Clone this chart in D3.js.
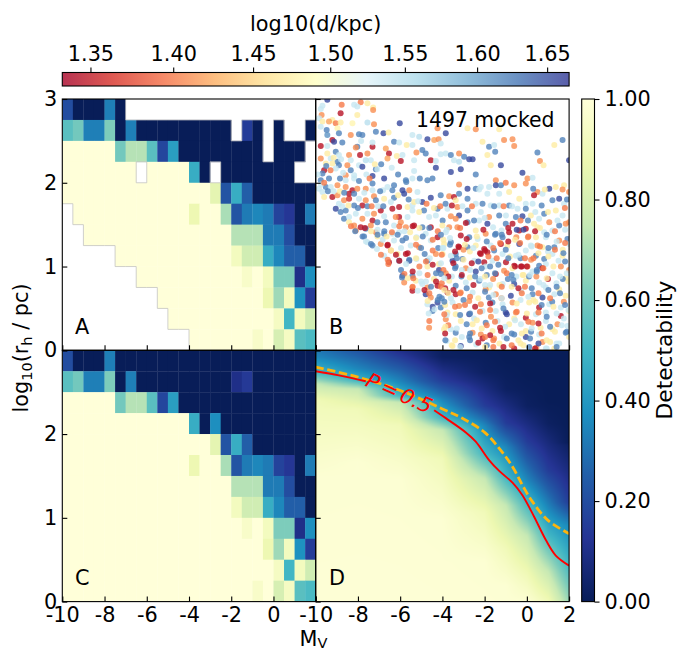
<!DOCTYPE html>
<html><head><meta charset="utf-8">
<style>html,body{margin:0;padding:0;background:#fff}svg{display:block}text{font-family:"DejaVu Sans";fill:#000}</style>
<script src="https://cdn.jsdelivr.net/npm/d3@7"></script>
</head><body><script>
const n = null;
const magBins = [-10,-9.5,-9,-8.5,-8,-7.5,-7,-6.5,-6,-5.5,-5,-4.5,-4,-3.5,-3,-2.5,-2,-1.5,-1,-0.5,0,0.5,1,1.5];
const sizeBins = [2.75,2.5,2.25,2,1.75,1.5,1.25,1,0.75,0.5,0.25,0];
const panelA = [
[.2,0,0,0,.33,0,n,n,n,n,n,n,n,n,n,n,n,n,n,n,n,n,n,n],
[.55,.6,.33,.33,.62,0,.33,0,0,0,0,0,0,0,0,0,n,.15,0,n,0,n,n,0],
[1,1,1,1,1,.6,.72,.72,.55,.18,.42,0,0,0,0,0,0,0,0,n,0,0,0,n],
[1,1,1,1,1,1,1,n,1,1,1,1,.47,0,n,0,0,0,0,0,0,0,n,n],
[1,1,1,1,1,1,1,1,1,1,1,1,1,1,.85,.22,.47,.25,0,0,0,0,0,0],
[n,1,1,1,1,1,1,1,1,1,1,1,.88,1,1,.7,.22,.32,.35,.32,.17,.13,0,.32],
[n,n,1,1,1,1,1,1,1,1,1,1,1,1,1,1,.72,.72,.72,.32,.32,.2,0,0],
[n,n,n,n,n,1,1,1,1,1,1,1,1,1,1,1,.92,.78,.78,.47,.35,.25,.25,0],
[n,n,n,n,n,n,n,1,1,1,1,1,1,1,1,1,1,.95,1,.92,.62,.62,.1,.37],
[n,n,n,n,n,n,n,n,n,1,1,1,1,1,1,1,1,1,1,.88,.68,.92,.38,.15],
[n,n,n,n,n,n,n,n,n,n,1,1,1,1,1,1,1,1,1,1,.93,.5,.92,.78],
[n,n,n,n,n,n,n,n,n,n,n,n,1,1,1,1,1,1,.95,1,.8,.93,.55,.52]];
const panelC = [
[.2,0,0,0,.33,0,0,0,0,0,0,0,0,0,0,0,0,0,0,0,0,0,0,0],
[.55,.6,.33,.33,.62,0,.33,0,0,0,0,0,0,0,0,0,.1,.14,0,0,0,0,0,0],
[1,1,1,1,1,.6,.72,.72,.55,.18,.42,0,0,0,0,0,0,0,0,0,0,0,0,0],
[1,1,1,1,1,1,1,1,1,1,1,1,.47,0,.37,0,0,0,0,0,0,0,0,0],
[1,1,1,1,1,1,1,1,1,1,1,1,1,1,.85,.22,.47,.25,0,0,0,0,0,0],
[1,1,1,1,1,1,1,1,1,1,1,1,.88,1,1,.7,.22,.32,.35,.32,.17,.13,0,.32],
[1,1,1,1,1,1,1,1,1,1,1,1,1,1,1,1,.72,.72,.72,.32,.32,.2,0,0],
[1,1,1,1,1,1,1,1,1,1,1,1,1,1,1,1,.92,.78,.78,.47,.35,.25,.25,0],
[1,1,1,1,1,1,1,1,1,1,1,1,1,1,1,1,1,.95,1,.92,.62,.62,.1,.37],
[1,1,1,1,1,1,1,1,1,1,1,1,1,1,1,1,1,1,1,.88,.68,.92,.38,.15],
[1,1,1,1,1,1,1,1,1,1,1,1,1,1,1,1,1,1,1,1,.93,.5,.92,.78],
[1,1,1,1,1,1,1,1,1,1,1,1,1,1,1,1,1,1,.95,1,.8,.93,.55,.52]];
// mocked systems: [M_V, log10(r_h), log10(d)]
const mocked = [
[-9.45,2.99,1.655],[-9.68,2.92,1.54],[-8.77,2.93,1.4],[-7.87,2.96,1.4],[-8.18,2.93,1.54],[-7.55,2.95,1.47],[-7.28,2.9,1.47],[-8.03,2.91,1.54],[-7.28,2.87,1.41],
[-9.76,2.88,1.54],[-9.72,2.81,1.41],[-9.84,2.77,1.54],[-8.82,2.83,1.345],[-8.03,2.81,1.47],[-9.21,2.75,1.47],[-9.37,2.73,1.42],[-9.05,2.71,1.4],[-9.68,2.73,1.47],[-8.26,2.71,1.48],[-8.82,2.72,1.47],[-7.55,2.72,1.55],[-7.24,2.7,1.41],[-6.02,2.71,1.655],
[-9.76,2.67,1.54],[-8.97,2.65,1.48],[-8.9,2.59,1.62],[-9.48,2.63,1.62],[-9.45,2.57,1.61],[-8.34,2.57,1.41],[-7.79,2.57,1.62],[-7.95,2.58,1.62],[-7.15,2.61,1.62],[-6.79,2.59,1.655],[-6.55,2.6,1.47],
[-9.76,2.44,1.345],[-9.21,2.51,1.345],[-9.13,2.49,1.655],[-8.74,2.48,1.62],[-8.03,2.43,1.62],[-8.1,2.42,1.41],[-7.31,2.43,1.345],[-7.31,2.48,1.54],[-6.68,2.41,1.42],[-6.29,2.49,1.62],[-6.05,2.48,1.54],[-5.69,2.45,1.47],[-5.42,2.45,1.54],[-5.42,2.57,1.54],[-5.1,2.55,1.55],[-4.71,2.52,1.655],[-4.39,2.51,1.42],[-4.18,2.52,1.41],[-4.08,2.47,1.54],[-3.84,2.59,1.655],[-4.23,2.65,1.41],[-2.81,2.65,1.47],[-2.42,2.64,1.41],[-1.31,2.64,1.47],[-1.08,2.51,1.41],[-0.68,2.52,1.41],[-0.6,2.44,1.41],[-2.1,2.49,1.47],[-1.79,2.43,1.62],[-1.55,2.45,1.54],[-1.5,2.37,1.62],[-1.87,2.33,1.47],[1.69,2.51,1.62],[1.3,2.45,1.47],[0.5,2.36,1.62],[0.62,2.26,1.41],[0.79,2.21,1.47],[-1.23,2.21,1.655],[-1.71,2.21,1.47],[2,2.27,1.655],
[-9.45,2.44,1.54],[-9.45,2.35,1.47],[-9.05,2.37,1.62],[-8.9,2.33,1.54],[-8.42,2.33,1.41],[-9.29,2.29,1.54],[-9.76,2.29,1.41],[-8.34,2.27,1.54],[-7.9,2.33,1.345],[-7.55,2.35,1.41],[-7.39,2.27,1.54],[-7.63,2.27,1.55],[-6.53,2.35,1.345],[-6.16,2.32,1.47],[-6.6,2.29,1.42],[-5.97,2.26,1.345],[-5.89,2.33,1.54],[-5.23,2.36,1.41],[-4.95,2.39,1.62],[-4.79,2.35,1.62],[-5.34,2.27,1.54],[-4.55,2.27,1.345],[-4.08,2.34,1.54],[-3.84,2.35,1.54],[-3.6,2.33,1.62],[-3.21,2.35,1.41],[-2.97,2.31,1.62],[-2.73,2.28,1.655],[-2.57,2.28,1.655],[-3.45,2.27,1.54],[-3.21,2.25,1.55],[-4.31,2.18,1.655],[-3.6,2.13,1.655],[-3.13,2.16,1.655],[-4.31,2.26,1.54],
[-8.97,2.25,1.62],[-9.52,2.23,1.47],[-9.21,2.23,1.47],[-8.9,2.21,1.62],[-8.5,2.21,1.41],[-7.95,2.21,1.54],[-8.34,2.15,1.62],[-8.18,2.09,1.54],[-8.58,2.09,1.41],[-9.6,2.15,1.345],[-9.68,2.11,1.62],[-9.05,2.17,1.54],[-7.79,2.19,1.655],[-7.15,2.16,1.62],[-7.08,2.16,1.54],[-7.31,2.08,1.655],[-6.76,2.05,1.655],[-6.29,1.97,1.62],[-5.73,2.03,1.62],[-5.34,2.14,1.54],[-5.42,2.05,1.54],[-5.07,2.05,1.62],[-4.71,2.03,1.62],[-4.47,2.05,1.62],[-2.42,2.1,1.62],[-0.21,2.12,1.655],[-1.47,2.03,1.41],
[-9.76,2.03,1.62],[-9.37,2.05,1.62],[-8.58,2.03,1.54],[-8.18,2.05,1.54],[-7.31,1.99,1.62],[-5.71,2.01,1.62],[-3.21,1.98,1.41],[-1.79,1.95,1.54],[-1.47,1.97,1.655],[-1.23,1.97,1.62],[-0.6,1.97,1.41],[0.03,2.05,1.41],[0.27,2.06,1.54],[-0.05,1.99,1.41],[0.5,1.89,1.41],[1.06,1.93,1.655],[1.37,1.95,1.47],[1.76,1.97,1.47],[1.69,1.92,1.41],[-2.81,1.93,1.655],[-2.42,1.93,1.62],[-2.18,1.95,1.54],
[-9.84,1.93,1.54],[-9.52,1.95,1.62],[-9.68,1.89,1.54],[-9.29,1.95,1.54],[-8.97,1.97,1.41],[-8.58,1.95,1.41],[-8.26,1.91,1.345],[-8.42,1.87,1.345],[-8.03,1.93,1.41],[-7.63,1.93,1.41],[-7.31,1.91,1.54],[-6.81,1.91,1.54],[-6.37,1.91,1.62],[-5.89,1.91,1.655],[-5.57,1.91,1.41],[-5.18,1.89,1.54],[-6.29,1.82,1.62],[-5.81,1.87,1.655],[-7.24,1.84,1.41],[-4.95,1.77,1.655],[-4.55,1.82,1.655],[-4.08,1.85,1.62],[-3.68,1.84,1.41],[-3.45,1.83,1.345],[-3.21,1.87,1.62],[-2.81,1.81,1.62],[-2.26,1.92,1.54],[-1.87,1.87,1.54],[-1.31,1.87,1.54],[-0.84,1.89,1.47],[-0.36,1.81,1.47],[-0.05,1.75,1.54],[0.34,1.85,1.345],[0.74,1.87,1.54],[1.21,1.79,1.62],[1.53,1.81,1.655],[1.76,1.75,1.54],[2,1.89,1.41],
[-9.6,1.83,1.47],[-9.21,1.83,1.345],[-8.97,1.85,1.41],[-8.66,1.79,1.41],[-8.42,1.81,1.36],[-8.18,1.87,1.62],[-7.95,1.81,1.54],[-7.63,1.79,1.41],[-7.15,1.79,1.62],[-6.76,1.81,1.47],[-8.9,1.75,1.54],[-9.05,1.69,1.655],[-7.79,1.73,1.345],[-8.18,1.73,1.62],[-8.58,1.67,1.62],[-6.92,1.67,1.345],[-6.37,1.69,1.345],[-6.05,1.71,1.345],[-6.44,1.77,1.54],[-5.65,1.71,1.47],[-5.42,1.73,1.54],[-5.34,1.77,1.47],[-4.87,1.67,1.62],[-4.23,1.69,1.62],[-3.76,1.69,1.54],[-3.29,1.71,1.41],[-3.37,1.79,1.47],[-2.81,1.67,1.62],[-2.42,1.75,1.54],[-2.1,1.75,1.62],[-2.18,1.65,1.54],[-1.71,1.73,1.54],[-1.31,1.73,1.54],[-0.84,1.73,1.62],[-0.44,1.69,1.54],[-0.05,1.69,1.62],[0.27,1.75,1.54],[0.82,1.63,1.62],[1.37,1.67,1.47],[1.69,1.61,1.54],[2,1.53,1.41],
[-8.82,1.65,1.62],[-8.66,1.57,1.62],[-8.42,1.59,1.54],[-8.1,1.63,1.54],[-7.55,1.63,1.54],[-7.24,1.63,1.41],[-6.76,1.6,1.54],[-6.05,1.59,1.345],[-6.21,1.59,1.41],[-5.65,1.59,1.54],[-5.42,1.67,1.54],[-5.1,1.65,1.47],[-4.63,1.59,1.54],[-4.31,1.61,1.54],[-3.99,1.55,1.62],[-3.6,1.6,1.41],[-3.21,1.61,1.655],[-3.37,1.57,1.41],[-2.81,1.53,1.62],[-2.26,1.55,1.54],[-1.79,1.59,1.41],[-1.31,1.61,1.62],[-0.99,1.61,1.54],[-0.52,1.59,1.62],[-0.21,1.6,1.655],[0.19,1.61,1.47],[0.58,1.57,1.54],[1.06,1.53,1.41],[1.53,1.49,1.62],
[-8.42,1.53,1.47],[-8.18,1.49,1.41],[-7.79,1.57,1.41],[-7.31,1.55,1.345],[-7.39,1.49,1.41],[-7.08,1.53,1.62],[-6.68,1.53,1.62],[-7.87,1.47,1.345],[-7.63,1.45,1.62],[-8.1,1.43,1.41],[-7.15,1.41,1.41],[-6.29,1.49,1.54],[-5.97,1.53,1.41],[-5.73,1.47,1.41],[-5.34,1.49,1.345],[-4.95,1.47,1.62],[-4.55,1.47,1.345],[-4,1.49,1.47],[-3.68,1.47,1.41],[-3.29,1.47,1.41],[-2.89,1.52,1.345],[-2.42,1.43,1.47],[-1.87,1.51,1.655],[-1.47,1.39,1.62],[-1,1.51,1.62],[-0.68,1.51,1.345],[-0.84,1.41,1.345],[-0.36,1.43,1.345],[-0.05,1.45,1.345],[0.34,1.51,1.47],[0.5,1.47,1.47],[0.82,1.41,1.54],[1.21,1.43,1.54],[1.84,1.51,1.41],
[-7.71,1.36,1.62],[-7.08,1.36,1.47],[-6.76,1.39,1.62],[-6.37,1.39,1.54],[-6.05,1.41,1.54],[-5.53,1.41,1.47],[-5.23,1.35,1.54],[-4.79,1.39,1.54],[-4.23,1.35,1.345],[-3.84,1.41,1.54],[-3.13,1.37,1.345],[-2.73,1.35,1.62],[-1.95,1.39,1.41],[-1.15,1.35,1.62],[-0.5,1.35,1.41],[0.05,1.35,1.41],[0.43,1.35,1.47],[0.9,1.35,1.54],[1.53,1.31,1.41],[1.92,1.33,1.62],
[-7.31,1.25,1.62],[-7.55,1.29,1.54],[-6.6,1.25,1.345],[-6.92,1.27,1.41],[-6.29,1.31,1.54],[-5.89,1.31,1.62],[-5.5,1.25,1.54],[-5.1,1.23,1.41],[-4.55,1.31,1.54],[-3.92,1.27,1.47],[-3.6,1.29,1.62],[-3.21,1.23,1.345],[-2.81,1.23,1.62],[-2.33,1.33,1.54],[-2.02,1.21,1.345],[-2.42,1.25,1.47],[-1.71,1.25,1.54],[-1.23,1.27,1.345],[-0.92,1.25,1.47],[-0.36,1.27,1.655],[0.19,1.25,1.54],[0.74,1.23,1.47],[1.3,1.23,1.62],[2,1.27,1.54],
[-6.76,1.13,1.54],[-6.44,1.19,1.41],[-6.13,1.15,1.47],[-5.73,1.15,1.345],[-5.23,1.09,1.54],[-4.84,1.15,1.62],[-4.31,1.15,1.41],[-3.99,1.15,1.47],[-3.37,1.15,1.62],[-2.18,1.15,1.345],[-1.87,1.17,1.345],[-1.55,1.19,1.62],[-1.15,1.15,1.54],[-0.52,1.13,1.54],[-0.05,1.19,1.54],[0.43,1.13,1.62],[0.82,1.09,1.62],[1.21,1.15,1.54],[1.69,1.13,1.47],
[-6.53,1.05,1.345],[-6.05,1.07,1.62],[-5.57,1.07,1.655],[-4.71,1.07,1.62],[-4.16,1.03,1.47],[-3.52,1.07,1.655],[-3.05,1.09,1.62],[-2.49,1.07,1.54],[-2.02,1.05,1.345],[-1.63,1.07,1.54],[-0.99,1.05,1.345],[-0.28,1,1.345],[0.03,1,1.41],[-0.6,1.01,1.345],[0.58,1.01,1.62],[0.9,1.03,1.54],[1.61,1,1.41],[2,.96,1.41],
[-5.89,.89,1.655],[-5.42,.89,1.62],[-5.26,.83,1.47],[-4.71,1,1.47],[-4.16,.96,1.655],[-3.84,.92,1.41],[-3.37,1,1.62],[-2.89,.98,1.41],[-2.42,.94,1.655],[-1.95,1,1.54],[-1.47,.91,1.345],[-1.08,.95,1.41],[-0.68,.98,1.47],[0.27,.94,1.54],[0.74,.98,1.345],[1.21,.92,1.54],[1.84,.86,1.47],
[-5.81,.81,1.41],[-5.42,.75,1.41],[-4.95,.79,1.54],[-4.71,.75,1.41],[-4.23,.77,1.345],[-3.68,.83,1.47],[-3.37,.77,1.62],[-2.89,.81,1.54],[-2.26,.83,1.62],[-1.79,.75,1.47],[-1.15,.79,1.54],[-0.6,.79,1.655],[-0.05,.83,1.47],[0.58,.81,1.54],[0.9,.75,1.54],[1.53,.73,1.47],
[-5.42,.71,1.345],[-4.79,.67,1.655],[-4.55,.63,1.41],[-3.76,.69,1.345],[-3.37,.67,1.345],[-3.13,.69,1.41],[-2.57,.69,1.54],[-1.95,.73,1.41],[-1.47,.67,1.41],[-0.76,.65,1.655],[-0.28,.71,1.54],[0.27,.67,1.62],[0.74,.63,1.655],[1.3,.67,1.54],[1.84,.65,1.47],
[-4.71,.55,1.54],[-4.23,.57,1.655],[-4.08,.51,1.62],[-3.52,.57,1.54],[-3.21,.53,1.41],[-2.73,.59,1.41],[-2.18,.55,1.41],[-1.63,.57,1.62],[-1.15,.55,1.54],[-0.68,.57,1.41],[0.11,.57,1.47],[0.58,.51,1.345],[1.06,.55,1.54],[1.61,.51,1.54],[2,.47,1.47],
[-4.47,.47,1.62],[-3.76,.45,1.47],[-3.37,.43,1.47],[-2.73,.43,1.655],[-2.1,.47,1.54],[-1.47,.47,1.54],[-1,.45,1.655],[-0.52,.45,1.41],[-0.05,.39,1.345],[0.43,.43,1.54],[0.9,.45,1.54],[1.61,.41,1.345],
[-4.63,.27,1.41],[-3.84,.37,1.41],[-3.6,.25,1.54],[-3.13,.35,1.47],[-2.57,.31,1.47],[-1.95,.33,1.62],[-1.39,.35,1.54],[-0.84,.31,1.47],[-0.28,.31,1.54],[0.27,.33,1.41],[0.9,.35,1.54],[1.45,.31,1.41],[1.92,.29,1.54],
[-3.92,.25,1.47],[-3.37,.21,1.62],[-2.57,.21,1.41],[-2.18,.19,1.41],[-1.63,.23,1.47],[-1.23,.23,1.345],[-0.6,.19,1.62],[-0.05,.23,1.47],[0.58,.19,1.54],[1.21,.25,1.47],[1.84,.21,1.62],
[-3.8,.11,1.54],[-3.52,.05,1.47],[-3.13,.05,1.655],[-2.73,.16,1.62],[-2.1,.14,1.345],[-1.55,.14,1.41],[-1.08,.16,1.54],[-0.6,.02,1.345],[-0.05,.16,1.655],[0.11,.04,1.62],[0.74,.1,1.41],[1.53,.08,1.54],[0.9,.02,1.54],[2,.16,1.47],
[-2.2,.85,1.54],[-1.9,.9,1.62],[-1.6,.85,1.41],[-1.3,.78,1.47],[-0.9,.85,1.62],[-0.5,.88,1.54],[-0.2,.9,1.47],[0.1,.88,1.62],[0.45,.88,1.41],[1,.85,1.345],[1.4,.8,1.54],[1.7,.85,1.62],[0.2,1.08,1.41],[-0.3,1.1,1.62],[-0.8,1.12,1.47],[1.5,1.07,1.54],[1,1.18,1.54],[0.5,1.25,1.41],[1.7,1.2,1.47],[-1.2,1.43,1.54],[-1.6,1.47,1.54],[-1,1.2,1.62],[-1.9,1.3,1.62],[-2.7,1.18,1.47],[-3,1.2,1.41],[-3.6,1.13,1.54],[-4.2,1.22,1.62],[-4.6,1.1,1.54],[-3.1,.88,1.62],[-2.7,.87,1.47],[-3.55,.88,1.54],[-4.4,.85,1.47],[-2.3,.62,1.47],[-1.8,.63,1.62],[-1.2,.62,1.41],[-0.3,.6,1.54],[0.4,.58,1.47],[1.2,.58,1.62],[1.75,.58,1.41],[-3,.6,1.62],[-3.6,.62,1.54],[-2.5,.38,1.54],[-1.7,.4,1.41],[-0.6,.38,1.47],[0.2,.22,1.62],[0.65,.27,1.47],[1.1,.1,1.47],[1.75,.38,1.54],[-1.3,.08,1.47],[-1.9,.06,1.62],[-2.4,.07,1.54],[-0.3,.08,1.47],[0.45,.03,1.41],[1.3,.02,1.47],
[-3.95,1.32,1.47],[-3.64,1.34,1.54],[-3.16,1.46,1.4],[-3.79,1.44,1.54],[-2.85,1.33,1.345],[-2.37,1.36,1.47],[-2.06,1.44,1.345],[-1.51,1.38,1.62],[-1.19,1.38,1.62],[-.88,1.46,1.345],[-.48,1.44,1.655],[-.16,1.44,1.655],[.39,1.42,1.345],[.62,1.46,1.47],[.94,1.38,1.62],[1.33,1.42,1.4],[1.81,1.44,1.54],
[-3.95,1.22,1.54],[-3.64,1.26,1.62],[-3.24,1.24,1.345],[-2.93,1.26,1.47],[-2.53,1.22,1.54],[-2.22,1.16,1.345],[-1.98,1.19,1.345],[-1.59,1.22,1.4],[-1.27,1.28,1.4],[-.88,1.3,1.345],[-.56,1.32,1.47],[-.32,1.28,1.4],[.07,1.36,1.4],[.23,1.24,1.54],[.62,1.24,1.4],[1.02,1.22,1.62],[1.41,1.3,1.54],[1.81,1.28,1.4],
[-4.03,1.14,1.4],[-3.4,1.18,1.345],[-3.32,1.1,1.62],[-3,1.08,1.47],[-2.61,1.04,1.345],[-2.3,1.06,1.655],[-1.82,1.12,1.4],[-1.43,1.1,1.4],[-.88,1.1,1.62],[-.4,1.14,1.54],[-.09,1.1,1.4],[.31,1.1,1.4],[.55,1.16,1.47],[1.02,1.12,1.47],[1.33,1.2,1.4],[1.73,1.16,1.62],
[-3.95,.96,1.4],[-3.48,1.04,1.345],[-3.4,.98,1.62],[-3.08,.96,1.54],[-2.69,.96,1.54],[-2.14,.98,1.62],[-1.74,1,1.62],[-1.35,1.02,1.62],[-.56,1,1.345],[-.24,1,1.345],[0,1,1.345],[.47,.96,1.62],[.78,.98,1.4],[1.26,1,1.47],[1.81,1.06,1.62],
[-4.03,.8,1.4],[-3.72,.88,1.345],[-3.08,.9,1.345],[-2.45,.88,1.62],[-1.98,.88,1.47],[-1.51,.92,1.62],[-.95,.92,1.4],[-.72,.9,1.62],[-.16,.9,1.47],[.15,.9,1.54],[.47,.94,1.62],[.94,.86,1.47],[1.57,.88,1.54],[1.89,.92,1.54],
[-3.87,.74,1.345],[-3.48,.72,1.345],[-2.85,.74,1.62],[-2.53,.78,1.345],[-1.98,.78,1.54],[-1.74,.78,1.54],[-1.19,.76,1.4],[-.64,.84,1.62],[-.4,.74,1.345],[-.09,.76,1.4],[.23,.74,1.62],[.78,.78,1.54],[1.02,.72,1.62],[1.41,.76,1.62],[1.97,.82,1.47],
[-4.03,.62,1.62],[-3.72,.68,1.47],[-3.16,.68,1.4],[-2.69,.64,1.4],[-1.98,.7,1.62],[-1.59,.66,1.54],[-1.19,.62,1.54],[-.72,.76,1.47],[-.24,.68,1.4],[.55,.68,1.4],[1.1,.62,1.4],[1.57,.68,1.62],
[-3.87,.54,1.47],[-3.4,.52,1.4],[-2.93,.54,1.4],[-2.45,.52,1.345],[-1.74,.56,1.345],[-1.11,.5,1.62],[-.48,.56,1.47],[.07,.64,1.54],[.31,.6,1.47],[.7,.54,1.62],[1.26,.52,1.47],[1.81,.54,1.62],
[-3.79,.42,1.54],[-3.16,.42,1.62],[-2.69,.44,1.62],[-2.22,.46,1.4],[-1.74,.48,1.4],[-.95,.43,1.655],[-.48,.46,1.4],[0,.44,1.47],[.55,.45,1.4],[.94,.4,1.62],[1.41,.44,1.54],[1.97,.48,1.54],
[-3.72,.3,1.4],[-3.32,.26,1.54],[-2.85,.31,1.62],[-2.37,.36,1.47],[-1.9,.3,1.4],[-1.51,.34,1.4],[-1.03,.28,1.54],[-.56,.36,1.54],[.07,.34,1.4],[.55,.32,1.345],[1.1,.28,1.62],[1.65,.3,1.54],
[-3.87,.2,1.345],[-3.08,.16,1.54],[-2.69,.2,1.62],[-2.14,.26,1.47],[-1.74,.18,1.345],[-1.27,.27,1.345],[-.72,.2,1.62],[-.24,.2,1.47],[.23,.26,1.54],[.7,.2,1.4],[1.33,.22,1.47],[1.89,.22,1.62],
[-3.4,.12,1.47],[-2.69,.12,1.62],[-2.3,.09,1.345],[-1.98,.16,1.4],[-1.59,.12,1.4],[-.95,.14,1.62],[-.4,.12,1.47],[.15,.14,1.62],[.55,.08,1.655],[.94,.12,1.47],[1.41,.08,1.54],
[-3.56,.06,1.47],[-3.16,.04,1.54],[-1.98,.04,1.47],[-1.59,.04,1.4],[-1.11,.04,1.345],[-.72,.06,1.4],[-.16,.06,1.47],[.39,.02,1.345],[.94,.02,1.54],[1.41,.04,1.62],
[-8.33,1.48,1.4],[-8.13,1.42,1.62],[-7.67,1.46,1.345],[-7.38,1.42,1.47],[-7.07,1.44,1.54],[-6.75,1.42,1.62],[-6.39,1.41,1.4],[-6.04,1.48,1.4],[-5.8,1.42,1.54],[-5.41,1.48,1.345],[-5.09,1.46,1.47],[-4.62,1.46,1.62],[-4.22,1.42,1.4],
[-7.78,1.36,1.62],[-7.62,1.3,1.54],[-7.38,1.27,1.62],[-7.07,1.38,1.62],[-6.83,1.32,1.54],[-6.64,1.36,1.47],[-6.12,1.38,1.62],[-5.72,1.34,1.62],[-5.25,1.34,1.47],[-4.93,1.36,1.62],[-4.46,1.32,1.4],[-4.07,1.38,1.62],
[-7.1,1.21,1.54],[-6.59,1.26,1.345],[-6.91,1.14,1.4],[-6.59,1.08,1.4],[-6.2,1.14,1.345],[-6.43,1.19,1.47],[-5.96,1.22,1.54],[-5.64,1.16,1.345],[-5.25,1.26,1.4],[-5.01,1.22,1.62],[-4.46,1.19,1.4],[-3.99,1.22,1.54],
[-6.56,1.03,1.4],[-6.04,1.07,1.345],[-5.57,1.08,1.62],[-5.09,1,1.4],[-4.78,1.06,1.4],[-4.46,1.02,1.345],[-4.07,1.04,1.54],[-5.25,1.1,1.47],
[-5.96,.96,1.62],[-5.72,1.03,1.54],[-5.8,.91,1.4],[-5.41,.94,1.345],[-5.09,.92,1.54],[-4.7,.9,1.4],[-4.3,.92,1.62],[-4.07,.91,1.62],
[-5.91,.87,1.62],[-5.64,.86,1.47],[-5.38,.86,1.4],[-4.78,.82,1.54],[-4.3,.82,1.345],[-3.91,.86,1.54],[-5.41,.76,1.4],[-5.01,.82,1.54],[-4.54,.76,1.62],[-4.07,.76,1.4],
[-5.17,.71,1.54],[-4.85,.72,1.345],[-4.62,.68,1.4],[-4.14,.64,1.62],[-3.91,.72,1.47],[-4.7,.59,1.47],[-4.46,.52,1.655],[-4.22,.6,1.62],[-3.91,.58,1.62],[-4.38,.49,1.54],[-4.65,.44,1.54],[-3.91,.43,1.4],[-4.62,.35,1.4],[-3.86,.28,1.47],[-3.86,.12,1.62],
[-9.9,2.1,1.54],[-9.75,1.98,1.54],[-9.6,2,1.4],[-9.42,1.9,1.62],[-9.15,1.9,1.54],[-9.5,2.2,1.62],[-9.3,2.15,1.4],[-9.15,2.3,1.47],[-8.8,2.28,1.54],[-8.7,2.12,1.54],[-8.85,2.05,1.62],[-8.85,1.9,1.47],[-8.65,1.88,1.62],[-8.75,1.72,1.54],[-8.45,1.73,1.47],[-8,1.7,1.62],[-7.7,1.88,1.54],[-7.55,1.72,1.62],[-7.35,1.72,1.4],[-7.05,1.72,1.54],[-6.8,1.72,1.62],[-7.95,2.02,1.62],[-7.6,2.1,1.54],[-7.45,2.05,1.4],[-7.85,2.5,1.54],[-7.2,2.22,1.47],[-6.9,2.22,1.62],[-6.4,2.18,1.54],[-6.1,2.1,1.62],[-6.6,1.95,1.54],[-6.95,1.9,1.62],[-6.1,1.85,1.47],[-5.6,1.8,1.62],[-5.15,1.78,1.54],[-4.75,1.75,1.4],[-4.4,1.7,1.47],[-4.1,1.72,1.4],[-3.85,1.75,1.62],[-3.55,1.73,1.345],[-3.05,1.72,1.54],[-2.6,1.72,1.4],[-2.5,1.55,1.62],[-2,1.58,1.54],[-1.55,1.72,1.62],[-1.1,1.72,1.4],[-0.7,1.72,1.54],[-0.3,1.55,1.4],[0.05,1.55,1.62],[0.4,1.65,1.54],[0.7,1.73,1.62],[1,1.65,1.47],[1.45,1.55,1.54],[1.8,1.7,1.4],[0.85,1.92,1.47],[0.3,1.93,1.62],[1.9,1.8,1.62],[-1,2,1.4]
];
// Panel D: read-off contour levels of detectability, as log10(r_h) per M_V column
const isoMv = [-10,-8,-6,-4,-2,-1,0,1,2];
const isoLevels = [0,.02,.15,.35,.5,.75,.9,.98,1];
const isoLogr = [
[4,3.9,3.6,3.3,3.1,2.9,2.7,2.4,1.9],
[3.6,3.35,3.12,2.92,2.74,2.54,2.34,2.13,1.87],
[3.35,3.12,2.92,2.64,2.34,2.13,1.91,1.57,1.19],
[2.92,2.78,2.62,2.4,2.1,1.85,1.45,1.12,.92],
[2.74,2.64,2.46,2.2,1.77,1.49,1.19,.8,.44],
[2.6,2.54,2.38,2.05,1.47,1.15,.79,.36,-.2],
[2.4,2.3,2.11,1.71,1.07,.64,.32,0,-.5],
[1.5,1.67,1.47,.99,.48,.2,0,-.4,-.9],
[-2,-2,-2,-2,-2,-2,-2,-2,-2]];
const redMvA = [-10,-8.9,-7.63], redLogrA = [2.75,2.7,2.63];
const redMvB = [-4.39,-3.84,-2.89,-2.42,-1.79,-1.31,-.68,-.21,.35,.9,1.37,2];
const redLogrB = [2.285,2.19,2.02,1.91,1.69,1.56,1.42,1.27,1.01,.735,.55,.43];
const dashMv = [-10,-8,-6,-4,-3,-2,-1.31,-.68,-.21,.27,1,2];
const dashLogr = [2.8,2.68,2.52,2.3,2.18,2.02,1.83,1.61,1.39,1.19,.97,.81];
const topTicks = [1.35,1.40,1.45,1.50,1.55,1.60,1.65];
const rightTicks = [0,.2,.4,.6,.8,1];
const magTicks = [-10,-8,-6,-4,-2,0,2];
const sizeTicks = [0,1,2,3];

const W=686,H=650,TS=20.8;
const xL=62.3,xM=315.7,xR=569.1,yT=99,yM=350.3,yB=601.6;
const svg=d3.select('body').append('svg').attr('width',W).attr('height',H);
const defs=svg.append('defs');
const detect=d3.scaleSequential(d3.piecewise(d3.interpolateRgb,[...d3.schemeYlGnBu[9]].reverse())).domain([0,1]);
const rdylbu=d3.piecewise(d3.interpolateRgb,d3.schemeRdYlBu[11]);
const distNorm=d3.scaleLog().domain([1.3334,1.666]).range([0,1]);

function panel(x0,x1,y0,y1,id){
  const x=d3.scaleLinear().domain([-10,2]).range([x0,x1]);
  const y=d3.scaleLinear().domain([0,3]).range([y1,y0]);
  defs.append('clipPath').attr('id',id).append('rect').attr('x',x0).attr('y',y0).attr('width',x1-x0).attr('height',y1-y0);
  const g=svg.append('g').attr('clip-path',`url(#${id})`);
  return {x,y,g,x0,x1,y0,y1};
}
function styleAxis(a){a.select('.domain').remove();a.selectAll('line').attr('stroke','#000').attr('stroke-width',1.1);a.selectAll('text').attr('font-size',TS).attr('font-family','DejaVu Sans').attr('fill','#000');}
function frame(p,xVals,yVals){
  const xa=d3.axisBottom(p.x).tickValues(magTicks).tickSizeInner(-5).tickSizeOuter(0).tickPadding(5.5).tickFormat(d=>xVals&&xVals.includes(d)?String(d):'');
  const ya=d3.axisLeft(p.y).tickValues(sizeTicks).tickSizeInner(-5).tickSizeOuter(0).tickPadding(5).tickFormat(d=>yVals&&yVals.includes(d)?String(d):'');
  styleAxis(svg.append('g').attr('transform',`translate(0,${p.y1})`).call(xa));
  styleAxis(svg.append('g').attr('transform',`translate(${p.x0},0)`).call(ya));
  svg.append('rect').attr('x',p.x0).attr('y',p.y0).attr('width',p.x1-p.x0).attr('height',p.y1-p.y0).attr('fill','none').attr('stroke','#000').attr('stroke-width',1.1);
}
function heat(p,rows){
  const cells=rows.flatMap((r,i)=>r.map((v,j)=>({v,i,j})));
  const x=c=>p.x(magBins[c]), y=r=>p.y(sizeBins[r]+.25);
  p.g.selectAll('rect.c').data(cells.filter(c=>c.v!==null)).join('rect').attr('class','c')
   .attr('x',c=>x(c.j)).attr('y',c=>y(c.i))
   .attr('width',c=>p.x(magBins[c.j]+.5)-x(c.j)+.3).attr('height',c=>p.y(sizeBins[c.i])-y(c.i)+.3)
   .attr('fill',c=>detect(c.v));
  const edges=[];
  cells.filter(c=>c.v===null).forEach(c=>{
    const l=magBins[c.j],r=l+.5,b=sizeBins[c.i],t=b+.25;
    const has=(i,j)=>rows[i]&&rows[i][j]!==undefined&&rows[i][j]!==null;
    if(has(c.i+1,c.j))edges.push([l,b,r,b]);
    if(has(c.i-1,c.j))edges.push([l,t,r,t]);
    if(has(c.i,c.j+1))edges.push([r,b,r,t]);
    if(has(c.i,c.j-1))edges.push([l,b,l,t]);
  });
  p.g.selectAll('line.e').data(edges).join('line').attr('class','e')
   .attr('x1',e=>p.x(e[0])).attr('y1',e=>p.y(e[1])).attr('x2',e=>p.x(e[2])).attr('y2',e=>p.y(e[3]))
   .attr('stroke','#c4c4c4').attr('stroke-width',.8);
}
const A=panel(xL,xM,yT,yM,'pa'),B=panel(xM,xR,yT,yM,'pb'),C=panel(xL,xM,yM,yB,'pc'),D=panel(xM,xR,yM,yB,'pd');
heat(A,panelA);heat(C,panelC);

// panel B
B.g.selectAll('circle').data(mocked).join('circle')
 .attr('cx',d=>B.x(d[0])).attr('cy',d=>B.y(d[1])).attr('r',3)
 .attr('fill',d=>rdylbu(distNorm(d[2]))).attr('fill-opacity',.8);

// panel D field
(function(){
  const w=Math.round(xR-xM),h=Math.round(yB-yM);
  const cv=document.createElement('canvas');cv.width=w;cv.height=h;
  const ctx=cv.getContext('2d'),im=ctx.createImageData(w,h);
  const colScales=isoMv.map((m,k)=>{
    const pts=isoLevels.map((lv,i)=>[isoLogr[i][k],lv]).sort((a,b)=>a[0]-b[0]);
    return d3.scaleLinear().domain(pts.map(q=>q[0])).range(pts.map(q=>q[1])).clamp(true);
  });
  const mToK=d3.scaleLinear().domain(isoMv).range(isoMv.map((_,i)=>i)).clamp(true);
  for(let py=0;py<h;py++){
    const lr=D.y.invert(yM+py+.5);
    const colVals=colScales.map(s=>s(lr));
    for(let px=0;px<w;px++){
      const k=mToK(D.x.invert(xM+px+.5)),k0=Math.min(Math.floor(k),isoMv.length-2),f=k-k0;
      const v=colVals[k0]*(1-f)+colVals[k0+1]*f;
      const c=d3.rgb(detect(v)),o=(py*w+px)*4;
      im.data[o]=c.r;im.data[o+1]=c.g;im.data[o+2]=c.b;im.data[o+3]=255;
    }
  }
  ctx.putImageData(im,0,0);
  D.g.append('image').attr('x',xM).attr('y',yM).attr('width',xR-xM).attr('height',yB-yM).attr('preserveAspectRatio','none').attr('href',cv.toDataURL());
})();
const lineGen=d3.line().x(d=>D.x(d[0])).y(d=>D.y(d[1])).curve(d3.curveCatmullRom.alpha(.5));
D.g.append('path').attr('d',lineGen(dashMv.map((m,i)=>[m,dashLogr[i]]))).attr('fill','none').attr('stroke','#fdb40e').attr('stroke-width',2.8).attr('stroke-dasharray','8.3,3.6');
[[redMvA,redLogrA],[redMvB,redLogrB]].forEach(([a,b])=>D.g.append('path').attr('d',lineGen(a.map((m,i)=>[m,b[i]]))).attr('fill','none').attr('stroke','#f00').attr('stroke-width',1.9));
svg.append('text').attr('transform',`translate(${D.x(-6.04)},${D.y(2.49)}) rotate(24)`).attr('text-anchor','middle').attr('dy','.35em')
 .attr('font-size',20.8).attr('font-style','italic').attr('word-spacing',-3).style('fill','#f00').text('P = 0.5');

frame(A,null,[0,1,2,3]);frame(B,null,null);frame(C,[-10,-8,-6,-4,-2,0],[0,1,2]);frame(D,[-10,-8,-6,-4,-2,0,2],null);

const note=(x,y,t,s)=>svg.append('text').attr('x',x).attr('y',y).attr('font-size',s||TS).text(t);
note(75,334,'A');note(329,334,'B');note(75,585,'C');note(329,585,'D');
note(416,127,'1497 mocked',20.4);

// top colour bar
const cbX=d3.scaleLog().domain(distNorm.domain()).range([xL,xR]);
const gradT=defs.append('linearGradient').attr('id','gt');
d3.schemeRdYlBu[11].forEach((c,i)=>gradT.append('stop').attr('offset',i/10).attr('stop-color',c).attr('stop-opacity',.8));
svg.append('rect').attr('x',xL).attr('y',72.5).attr('width',xR-xL).attr('height',13.5).attr('fill','url(#gt)').attr('stroke','#000').attr('stroke-width',1.1);
styleAxis(svg.append('g').attr('transform','translate(0,72.5)').call(d3.axisTop(cbX).tickValues(topTicks).tickSizeInner(5).tickSizeOuter(0).tickPadding(7).tickFormat(d3.format('.2f'))));
svg.append('text').attr('x',(xL+xR)/2).attr('y',30.5).attr('text-anchor','middle').attr('font-size',TS).text('log10(d/kpc)');

// right colour bar
const cbY=d3.scaleLinear().domain([0,1]).range([yB,yT]);
const gradR=defs.append('linearGradient').attr('id','gr').attr('x1',0).attr('x2',0).attr('y1',1).attr('y2',0);
[...d3.schemeYlGnBu[9]].reverse().forEach((c,i)=>gradR.append('stop').attr('offset',i/8).attr('stop-color',c));
svg.append('rect').attr('x',581.7).attr('y',yT).attr('width',12.8).attr('height',yB-yT).attr('fill','url(#gr)').attr('stroke','#000').attr('stroke-width',1.1);
styleAxis(svg.append('g').attr('transform','translate(594.5,0)').call(d3.axisRight(cbY).tickValues(rightTicks).tickSizeInner(5).tickSizeOuter(0).tickPadding(5).tickFormat(d3.format('.2f'))));
svg.append('text').attr('transform',`translate(671.5,350) rotate(-90)`).attr('text-anchor','middle').attr('font-size',21.7).text('Detectability');

// axis titles
const yl=svg.append('text').attr('transform','translate(28,348) rotate(-90)').attr('text-anchor','middle').attr('font-size',TS);
yl.append('tspan').text('log');
yl.append('tspan').attr('font-size',TS*.7).attr('dy',4).text('10');
yl.append('tspan').attr('dy',-4).text('(r');
yl.append('tspan').attr('font-size',TS*.7).attr('dy',4).text('h');
yl.append('tspan').attr('dy',-4).text(' / pc)');
const xl=svg.append('text').attr('x',313.5).attr('y',646).attr('text-anchor','middle').attr('font-size',TS);
xl.append('tspan').text('M');
xl.append('tspan').attr('font-size',TS*.7).attr('dy',2).text('V');
</script></body></html>
